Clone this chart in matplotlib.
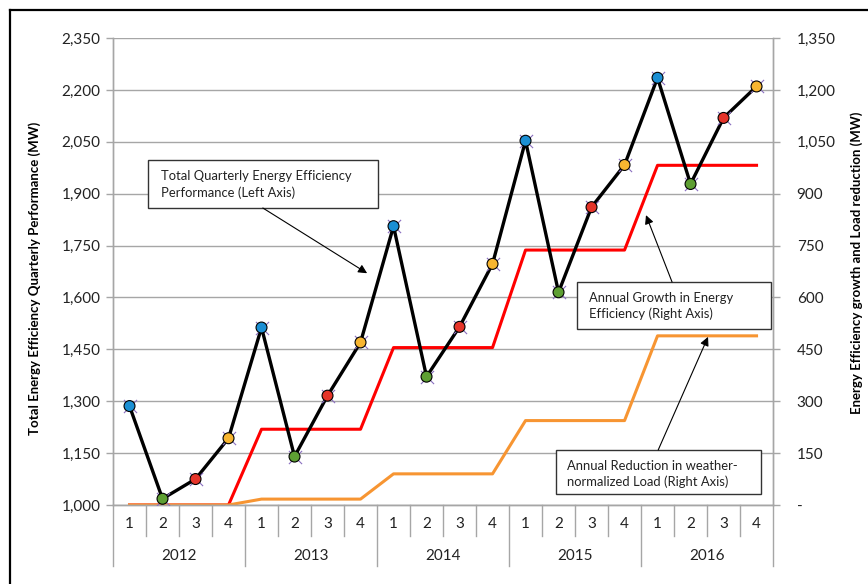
import numpy as np
import matplotlib.pyplot as plt
from matplotlib.lines import Line2D
from matplotlib.patches import Rectangle

plt.rcParams['font.family'] = ['Lato', 'DejaVu Sans']

years = ['2012', '2013', '2014', '2015', '2016']
quarters = ['1', '2', '3', '4']

# total quarterly EE performance (MW), left axis
total_perf = [1286, 1018, 1075, 1193,
              1513, 1140, 1316, 1470,
              1806, 1371, 1515, 1697,
              2053, 1615, 1861, 1983,
              2235, 1928, 2119, 2210]
# annual values (MW), right axis - same value for each quarter of a year
annual_growth = [0, 219, 455, 737, 982]
load_reduction = [0, 17, 90, 244, 489]

quarter_colors = ['#1b8fd4', '#5e9f33', '#e5342a', '#f7b531']

n = len(years) * len(quarters)
x = np.arange(n)
growth_q = np.repeat(annual_growth, len(quarters))
reduction_q = np.repeat(load_reduction, len(quarters))

fig = plt.figure(figsize=(8.68, 5.84), dpi=100)
ax = fig.add_axes([0.1302, 0.1353, 0.7604, 0.7996])
ax2 = ax.twinx()
ax.set_zorder(ax2.get_zorder() + 1)
ax.patch.set_visible(False)

grid_col = '#a6a6a6'

# right axis: grid + step lines
ax2.set_ylim(0, 1350)
ax2.set_yticks(np.arange(0, 1351, 150))
ax2.set_yticklabels(['-'] + ['{:,}'.format(v) for v in range(150, 1351, 150)])
ax2.grid(axis='y', color=grid_col, lw=1.0)
ax2.set_axisbelow(True)
ax2.plot(x, growth_q, color='#ff0000', lw=2.2, zorder=2)
ax2.plot(x, reduction_q, color='#f79532', lw=2.2, zorder=2)

# left axis: total performance
ax.set_ylim(1000, 2350)
ax.set_yticks(np.arange(1000, 2351, 150))
ax.set_yticklabels(['{:,}'.format(v) for v in range(1000, 2351, 150)])
ax.plot(x, total_perf, color='black', lw=2.4, zorder=3)
ax.scatter(x, total_perf, s=90, marker='x', color='#8a6fc0', lw=0.8, zorder=4)
ax.scatter(x, total_perf, s=62, c=[quarter_colors[i % 4] for i in range(n)],
           edgecolors='black', linewidths=0.8, zorder=5)

ax.set_xlim(-0.5, n - 0.5)
ax.set_xticks(x)
ax.set_xticklabels(quarters * len(years))
ax.tick_params(axis='x', length=0, pad=9, labelsize=11, colors='#222222')
ax.tick_params(axis='y', length=5, width=1, color=grid_col, pad=4, labelsize=11, labelcolor='#222222')
ax2.tick_params(axis='y', length=5, width=1, color=grid_col, pad=12, labelsize=11, labelcolor='#222222')

for a in (ax, ax2):
    a.spines['top'].set_visible(False)
    for s in ('left', 'right', 'bottom'):
        a.spines[s].set_color(grid_col)
        a.spines[s].set_linewidth(1.0)

# two level category axis
trans = ax.get_xaxis_transform()
for b in np.arange(-0.5, n, 1):
    yend = -0.131 if (b + 0.5) % 4 == 0 else -0.066
    ax.plot([b, b], [0, yend], color=grid_col, lw=1.0, transform=trans, clip_on=False)
for i, yr in enumerate(years):
    ax.text(i * 4 + 1.5, -0.109, yr, transform=trans, ha='center', va='center',
            fontsize=11, color='#222222')

ax.set_ylabel('Total Energy Efficiency Quarterly Performance (MW)', fontsize=9.5, fontweight='bold',
              va='center')
ax.yaxis.set_label_coords(-0.118, 0.486)
ax2.set_ylabel('Energy Efficiency growth and Load reduction (MW)', fontsize=9.5, fontweight='bold',
               va='center')
ax2.yaxis.set_label_coords(1.127, 0.518)

# callout boxes
boxes = [
    ((0.053, 0.636), 0.3485, 0.1028, (0.0727, 0.687),
     'Total Quarterly Energy Efficiency\nPerformance (Left Axis)', (0.227, 0.636), (7.2, 1670), ax),
    ((0.703, 0.3769), 0.294, 0.1006, (0.721, 0.426),
     'Annual Growth in Energy\nEfficiency (Right Axis)', (0.847, 0.4775), (15.65, 838), ax2),
    ((0.671, 0.0236), 0.311, 0.0942, (0.688, 0.0664),
     'Annual Reduction in weather-\nnormalized Load (Right Axis)', (0.826, 0.1178), (17.53, 486), ax2),
]
for (x0, y0), w, h, tpos, txt, start, tip, tgt in boxes:
    ax.add_patch(Rectangle((x0, y0), w, h, transform=ax.transAxes, facecolor='white',
                           edgecolor='#333333', lw=1.0, zorder=6))
    ax.text(tpos[0], tpos[1], txt, transform=ax.transAxes, ha='left', va='center',
            fontsize=9.4, color='#222222', linespacing=1.4, zorder=7)
    # convert tip from the target axis' data coords into ax's data coords
    tip_disp = tgt.transData.transform(tip)
    ax.annotate('', xy=tip_disp, xycoords='figure pixels', xytext=start, textcoords='axes fraction',
                arrowprops=dict(arrowstyle='-|>', color='black', lw=0.8, mutation_scale=13,
                                shrinkA=0, shrinkB=0), zorder=7)

# outer frame (only left and top edges visible)
fig.add_artist(Line2D([10 / 868, 10 / 868], [0, 1 - 9.5 / 584], color='black', lw=1.6))
fig.add_artist(Line2D([10 / 868, 1], [1 - 9.5 / 584, 1 - 9.5 / 584], color='black', lw=1.6))

fig.savefig('out.png', dpi=100, facecolor='white')
